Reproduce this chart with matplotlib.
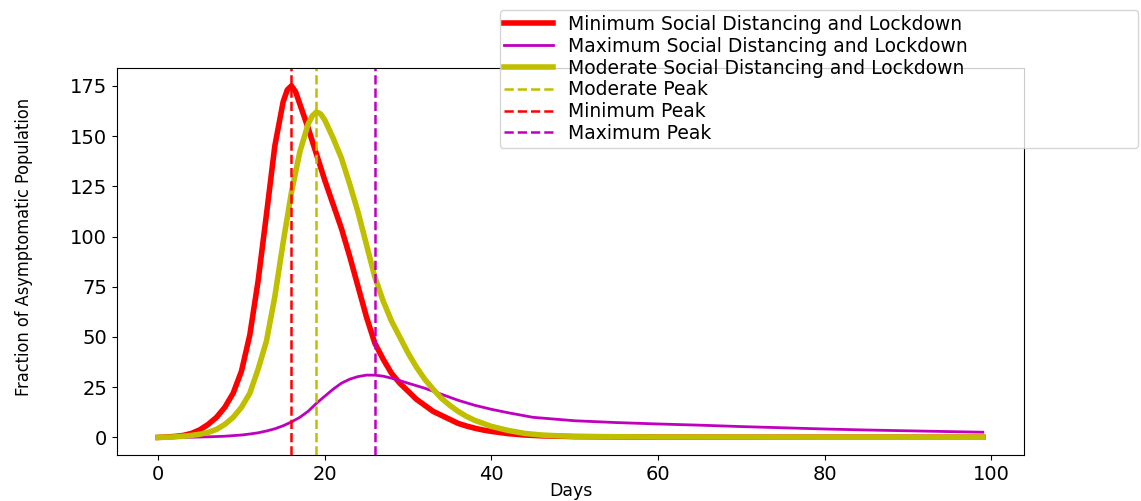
import matplotlib as mpl
import matplotlib.pyplot as plt
mpl.use('agg')

# values
min_days = [0, 1, 2, 3, 4, 5, 6, 7, 8, 9, 10, 11, 12, 13, 14, 15, 15.5, 16, 16.5, 17, 18, 19,
            20, 21, 22, 23, 24, 25, 26, 27, 28, 29, 30, 31, 32, 33, 34, 35, 36, 37,
            38, 39, 40, 42, 44, 46, 50, 60, 70, 80, 90, 99]
min_vals = [0, 0.2, 0.5, 1.0, 2.0, 3.8, 6.5, 10, 15, 22, 33, 51, 78, 111, 145, 167, 173, 175, 172, 166, 154, 141,
            128, 116, 104, 90, 75, 60, 47, 39, 32, 27, 23, 19, 16, 13, 11, 9, 7, 5.7,
            4.6, 3.7, 3.0, 1.9, 1.2, 0.8, 0.4, 0.15, 0.1, 0.1, 0.1, 0.1]

mod_days = [0, 1, 2, 3, 4, 5, 6, 7, 8, 9, 10, 11, 12, 13, 14, 15, 16, 17, 18, 18.5, 19, 19.5,
            20, 21, 22, 23, 24, 25, 26, 27, 28, 29, 30, 31, 32, 33, 34, 35, 36, 37,
            38, 39, 40, 42, 44, 46, 48, 50, 60, 70, 80, 90, 99]
mod_vals = [0, 0.1, 0.3, 0.6, 1.0, 1.6, 2.5, 4, 6.5, 10, 15, 22, 34, 48, 70, 97, 122, 142, 156, 160, 162, 161,
            158, 149, 139, 126, 112, 96, 80, 68, 58, 50, 42, 35, 29, 24, 19.5, 16, 13, 10.5,
            8.5, 7, 5.5, 3.5, 2.0, 1.2, 0.8, 0.5, 0.2, 0.15, 0.1, 0.1, 0.1]

max_days = [0, 4, 6, 8, 10, 11, 12, 13, 14, 15, 16, 17, 18, 19, 20, 21, 22, 23, 24, 25,
            26, 27, 28, 29, 30, 32, 34, 36, 38, 40, 42, 45, 50, 55, 60, 65, 70, 75,
            80, 85, 90, 95, 99]
max_vals = [0, 0.1, 0.3, 0.6, 1.2, 1.7, 2.3, 3.2, 4.3, 5.8, 7.7, 10, 13, 17, 20.5, 24, 27, 29, 30.3, 31,
            31, 30.5, 29.5, 28.3, 27, 24.5, 21.5, 18.5, 16, 14, 12.3, 10, 8.3, 7.4, 6.7, 6.1, 5.4, 4.8,
            4.2, 3.7, 3.3, 2.9, 2.6]

peak_mod = 19
peak_min = 16
peak_max = 26

fig = plt.figure(figsize=(11.41, 5.01), dpi=100)
ax = fig.add_axes([0.1025, 0.0918, 0.795, 0.772])

ax.plot(min_days, min_vals, 'r', lw=4, label='Minimum Social Distancing and Lockdown')
ax.plot(max_days, max_vals, 'm', lw=2, label='Maximum Social Distancing and Lockdown')
ax.plot(mod_days, mod_vals, 'y', lw=4, label='Moderate Social Distancing and Lockdown')
ax.axvline(peak_mod, color='y', ls='--', lw=1.8, label='Moderate Peak')
ax.axvline(peak_min, color='r', ls='--', lw=1.8, label='Minimum Peak')
ax.axvline(peak_max, color='m', ls='--', lw=1.8, label='Maximum Peak')

ax.tick_params(labelsize=14)
ax.set_xlabel('Days', fontsize=12.5, labelpad=-1)
ax.set_ylabel('Fraction of Asymptomatic Population', fontsize=13,
              fontstretch='condensed')
ax.yaxis.set_label_coords(-0.093, 0.537)

ax.legend(loc='upper left', bbox_to_anchor=(0.422, 0.793, 0.704, 0.357), mode='expand',
          borderaxespad=0, fontsize=13.5, labelspacing=0.15, handlelength=2.6,
          borderpad=0.25)

fig.savefig('out.png', dpi=100)
